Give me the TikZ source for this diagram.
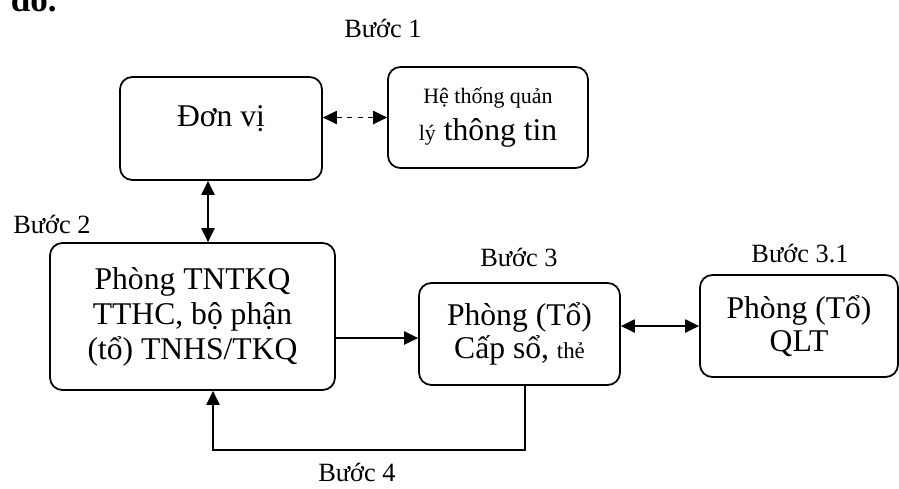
\documentclass[tikz,border=0pt]{standalone}
\usepackage{fontspec}
\setmainfont{Liberation Serif}
\usetikzlibrary{arrows.meta}

\begin{document}
\begin{tikzpicture}[x=0.02cm,y=-0.02cm,>={Triangle[length=8pt,width=7.5pt]},line width=1pt,
    box/.style={draw,rectangle,rounded corners=7pt,align=center,inner sep=2pt,
        font=\fontsize{18}{20}\selectfont},
    steplbl/.style={font=\fontsize{15}{17}\selectfont,inner sep=0pt}]
    \useasboundingbox (0,0) rectangle (899,488);
    \node[font=\bfseries\fontsize{20}{22}\selectfont,anchor=base west,inner sep=0pt] (title) at (10,11) {đồ.};
    % boxes
    \node[box,minimum width=4.04cm,minimum height=2.06cm,text depth=0.5cm] (donvi) at (221,128.5) {Đơn vị};
    \node[box,minimum width=4cm,minimum height=2.02cm,font=\fontsize{18}{21}\selectfont] (htql) at (488,117.5)
        {{\fontsize{12.5}{14}\selectfont Hệ thống quản}\\{\fontsize{12.5}{14}\selectfont lý} thông tin};
    \node[box,minimum width=5.7cm,minimum height=2.94cm] (tntkq) at (192.5,316.5) {Phòng TNTKQ\\TTHC, bộ phận\\(tổ) TNHS/TKQ};
    \node[box,minimum width=4.02cm,minimum height=2.04cm,font=\fontsize{18}{19}\selectfont] (capso) at (519.5,334)
        {Phòng (Tổ)\\Cấp sổ, {\fontsize{13}{14}\selectfont thẻ}};
    \node[box,minimum width=3.96cm,minimum height=2.04cm,font=\fontsize{18}{18.5}\selectfont] (qlt) at (799,326) {Phòng (Tổ)\\QLT};
    % labels
    \node[steplbl] (b1) at (383,28) {Bước 1};
    \node[steplbl] (b2) at (52,224) {Bước 2};
    \node[steplbl] (b3) at (519,257) {Bước 3};
    \node[steplbl] (b31) at (800,254) {Bước 3.1};
    \node[steplbl] (b4) at (357,472) {Bước 4};
    % connectors
    \coordinate (turn) at (213,450);
    \draw[<->,dashed] (donvi.east |- htql.west) -- (htql.west);
    \draw[<->] ([xshift=-0.26cm]donvi.south) -- ([xshift=-0.26cm]donvi.south |- tntkq.north);
    \draw[->] (tntkq.east |- 0,338) -- (capso.west |- 0,338);
    \draw[<->] (capso.east |- qlt.west) -- (qlt.west);
    \draw[->] ([xshift=0.11cm]capso.south) |- (turn) -- (turn |- tntkq.south);
\end{tikzpicture}
\end{document}
